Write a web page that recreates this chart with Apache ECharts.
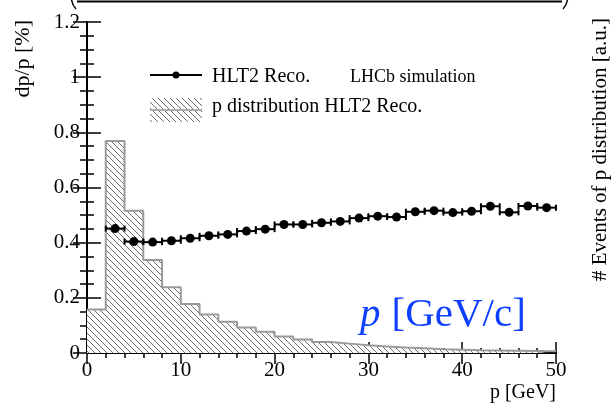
<!DOCTYPE html>
<html>
<head>
<meta charset="utf-8">
<script src="https://cdn.jsdelivr.net/npm/echarts@6/dist/echarts.min.js"></script>
<style>
  html, body { margin: 0; padding: 0; background: #fff; }
  #chart { width: 613px; height: 404px; }
</style>
</head>
<body>
<div id="chart"></div>
<script>
// Momentum resolution per 2 GeV bin (bin centres, GeV) and dp/p in %
const binCentres = [3, 5, 7, 9, 11, 13, 15, 17, 19, 21, 23, 25, 27, 29, 31, 33, 35, 37, 39, 41, 43, 45, 47, 49];
const resolution = [0.451, 0.404, 0.402, 0.407, 0.416, 0.425, 0.430, 0.442, 0.449, 0.466, 0.466, 0.472,
                    0.477, 0.489, 0.496, 0.493, 0.512, 0.516, 0.509, 0.514, 0.532, 0.510, 0.533, 0.527];
const binHalfWidth = 1;

// Momentum distribution (arbitrary units), lower bin edges in GeV
const histEdges = [0, 2, 4, 6, 8, 10, 12, 14, 16, 18, 20, 22, 24, 26, 28, 30, 32, 34, 36, 38, 40, 42, 44, 46, 48, 50];
const histCounts = [0.158, 0.769, 0.516, 0.337, 0.238, 0.178, 0.140, 0.113, 0.092, 0.077, 0.060, 0.049, 0.040,
                    0.034, 0.028, 0.024, 0.020, 0.017, 0.014, 0.012, 0.010, 0.009, 0.008, 0.007, 0.006];

const xTicks = { min: 0, max: 50, interval: 10 };
const yTicks = { min: 0, max: 1.2, interval: 0.2 };

const FONT = 'Liberation Serif';

// diagonal hatch pattern for the distribution
function makeHatch() {
  const s = 6;
  const c = document.createElement('canvas');
  c.width = s; c.height = s;
  const g = c.getContext('2d');
  g.fillStyle = '#ffffff';
  g.fillRect(0, 0, s, s);
  g.strokeStyle = '#5a5a5a';
  g.lineWidth = 0.9;
  g.beginPath();
  g.moveTo(-1, -1); g.lineTo(s + 1, s + 1);
  g.moveTo(-1, s - 1); g.lineTo(1, s + 1);
  g.moveTo(s - 1, -1); g.lineTo(s + 1, 1);
  g.stroke();
  return c;
}
const hatch = makeHatch();
const hatchFill = { image: hatch, repeat: 'repeat' };

// step outline: each bin value held from its lower edge to the next edge
const histData = histCounts.map((v, i) => [histEdges[i], v]);
histData.push([histEdges[histEdges.length - 1], histCounts[histCounts.length - 1]]);

const pointData = binCentres.map((x, i) => [x, resolution[i]]);

const axisLine = { show: true, lineStyle: { color: '#000', width: 2 } };
function xAxisCfg(pos, labels) {
  return {
    type: 'value', position: pos, gridIndex: 0,
    min: xTicks.min, max: xTicks.max, interval: xTicks.interval,
    axisLine: axisLine,
    axisTick: { show: true, inside: true, length: 11, lineStyle: { color: '#000', width: 1.5 } },
    minorTick: { show: true, splitNumber: 5, length: 5, lineStyle: { color: '#000', width: 1.5 } },
    splitLine: { show: false },
    axisLabel: { show: labels, fontFamily: FONT, fontSize: 21, color: '#000', margin: 7 }
  };
}
function yAxisCfg(pos, labels) {
  return {
    type: 'value', position: pos, gridIndex: 0,
    min: yTicks.min, max: yTicks.max, interval: yTicks.interval,
    axisLine: axisLine,
    axisTick: { show: true, inside: true, length: 14, lineStyle: { color: '#000', width: 1.5 } },
    minorTick: { show: true, splitNumber: 4, length: 7, lineStyle: { color: '#000', width: 1.5 } },
    splitLine: { show: false },
    axisLabel: { show: labels, fontFamily: FONT, fontSize: 21, color: '#000', margin: 7 }
  };
}

const chart = echarts.init(document.getElementById('chart'), null, { renderer: 'canvas' });

chart.setOption({
  animation: false,
  backgroundColor: '#fff',
  grid: { left: 87, right: 57, top: 22, bottom: 51 },
  xAxis: [xAxisCfg('bottom', true), xAxisCfg('top', false)],
  yAxis: [yAxisCfg('left', true), yAxisCfg('right', false)],
  series: [
    {
      name: 'p distribution HLT2 Reco.',
      type: 'line',
      xAxisIndex: 0, yAxisIndex: 1,
      step: 'end',
      data: histData,
      symbol: 'none',
      lineStyle: { color: '#9a9a9a', width: 2 },
      areaStyle: { color: hatchFill, opacity: 1 },
      z: 1
    },
    {
      name: 'HLT2 Reco.',
      type: 'custom',
      xAxisIndex: 0, yAxisIndex: 0,
      data: pointData,
      z: 3,
      renderItem: function (params, api) {
        const x = api.value(0), y = api.value(1);
        const l = api.coord([x - binHalfWidth, y]);
        const r = api.coord([x + binHalfWidth, y]);
        const c = api.coord([x, y]);
        const st = { stroke: '#000', lineWidth: 2 };
        return {
          type: 'group',
          children: [
            { type: 'line', shape: { x1: l[0], y1: l[1], x2: r[0], y2: r[1] }, style: st },
            { type: 'line', shape: { x1: l[0], y1: l[1] - 3, x2: l[0], y2: l[1] + 3 }, style: st },
            { type: 'line', shape: { x1: r[0], y1: r[1] - 3, x2: r[0], y2: r[1] + 3 }, style: st },
            { type: 'circle', shape: { cx: c[0], cy: c[1], r: 4.5 }, style: { fill: '#000' } }
          ]
        };
      }
    }
  ],
  graphic: [
    // bracket running along the top edge
    { type: 'line', shape: { x1: 77, y1: 1.5, x2: 562, y2: 1.5 }, style: { stroke: '#000', lineWidth: 2 } },
    { type: 'bezierCurve', shape: { x1: 71, y1: -6, cpx1: 71, cpy1: 4, x2: 76, y2: 9 }, style: { stroke: '#000', lineWidth: 1.5, fill: null } },
    { type: 'bezierCurve', shape: { x1: 568, y1: -6, cpx1: 568, cpy1: 4, x2: 563, y2: 9 }, style: { stroke: '#000', lineWidth: 1.5, fill: null } },

    // legend
    { type: 'line', shape: { x1: 150, y1: 75, x2: 202, y2: 75 }, style: { stroke: '#000', lineWidth: 2 } },
    { type: 'circle', shape: { cx: 176, cy: 75, r: 3.5 }, style: { fill: '#000' } },
    { type: 'text', x: 212, y: 77, style: { text: 'HLT2 Reco.', font: '20px "Liberation Serif"', fill: '#000', verticalAlign: 'middle' } },
    { type: 'rect', shape: { x: 150, y: 98, width: 52, height: 24 }, style: { fill: hatchFill } },
    { type: 'line', shape: { x1: 150, y1: 110, x2: 202, y2: 110 }, style: { stroke: '#aaaaaa', lineWidth: 2 } },
    { type: 'text', x: 212, y: 107, style: { text: 'p distribution HLT2 Reco.', font: '20px "Liberation Serif"', fill: '#000', verticalAlign: 'middle' } },
    { type: 'text', x: 350, y: 77, style: { text: 'LHCb simulation', font: '18px "Liberation Serif"', fill: '#000', verticalAlign: 'middle' } },

    // axis titles
    { type: 'text', x: 23, y: 20, rotation: Math.PI / 2, style: { text: 'dp/p [%]', font: '22px "Liberation Serif"', fill: '#000', align: 'right', verticalAlign: 'middle' } },
    { type: 'text', x: 600, y: 18, rotation: Math.PI / 2, style: { text: '# Events of p distribution [a.u.]', font: '21px "Liberation Serif"', fill: '#000', align: 'right', verticalAlign: 'middle' } },
    { type: 'text', x: 556, y: 393, style: { text: 'p [GeV]', font: '20px "Liberation Serif"', fill: '#000', align: 'right', verticalAlign: 'middle' } },

    // momentum unit annotation
    { type: 'text', x: 360, y: 315, style: {
        text: '{i|p}[GeV/c]',
        font: '41px "Liberation Serif"', fill: '#1040ff', verticalAlign: 'middle',
        rich: { i: { fontFamily: FONT, fontSize: 41, fontStyle: 'italic', fill: '#1040ff', padding: [0, 11, 0, 0] } }
    } }
  ]
});
</script>
</body>
</html>
